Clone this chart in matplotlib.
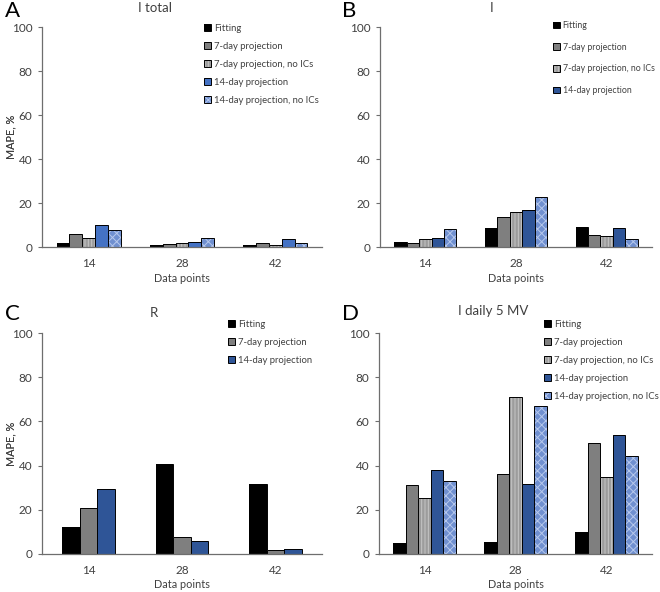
import numpy as np
import matplotlib.pyplot as plt
from matplotlib.patches import Patch

plt.rcParams['font.family'] = ['Lato', 'DejaVu Sans']
plt.rcParams['hatch.linewidth'] = 0.7

points = ["14", "28", "42"]

names_full = ["Fitting", "7-day projection", "7-day projection, no ICs",
              "14-day projection", "14-day projection, no ICs"]
names_r = ["Fitting", "7-day projection", "14-day projection"]

# MAPE, % per series (rows) at 14 / 28 / 42 data points
i_total = [[2.0, 0.8, 1.0],
           [5.8, 1.2, 1.8],
           [4.0, 2.0, 1.0],
           [10.0, 2.5, 3.6],
           [7.8, 4.2, 1.8]]
i_active = [[2.4, 8.8, 9.0],
            [2.0, 13.6, 5.4],
            [3.5, 16.0, 5.2],
            [4.2, 17.0, 8.8],
            [8.2, 22.6, 3.8]]
r_removed = [[12.2, 40.5, 31.5],
             [20.6, 7.6, 1.6],
             [29.6, 6.0, 2.2]]
i_daily = [[5.0, 5.6, 10.0],
           [31.0, 36.0, 50.4],
           [25.4, 71.2, 35.0],
           [38.0, 31.7, 54.0],
           [33.0, 66.8, 44.5]]

TEXT = '#404040'
AXIS = '#6e6e6e'


def styles(blue):
    return {
        "Fitting": ('black', None, 'black'),
        "7-day projection": ('#7f7f7f', None, '#7f7f7f'),
        "7-day projection, no ICs": ('#9c9c9c', '|||||', '#c6c6c6'),
        "14-day projection": (blue, None, blue),
        "14-day projection, no ICs": ('#7090d0', 'xxxx', '#b6c8ec'),
    }


def draw_panel(rect, data, names, blue, letter, title, title_xy, letter_xy,
               leg_xy, leg_n, leg_space, leg_size):
    ax = fig.add_axes(rect)
    st = styles(blue)
    n = len(data)
    w = 1.0 / (n + 2.3)
    x = np.arange(len(points))
    handles = []
    for k, (vals, name) in enumerate(zip(data, names)):
        fc, hatch, hc = st[name]
        pos = x + (k - (n - 1) / 2) * w
        ax.bar(pos, vals, w, color=fc, hatch=hatch, edgecolor=hc, lw=0)
        ax.bar(pos, vals, w, fill=False, edgecolor='black', lw=0.7)
        handles.append((Patch(facecolor=fc, hatch=hatch, edgecolor=hc, lw=0),
                        Patch(fill=False, edgecolor='black', lw=0.7)))
    ax.set_xlim(-0.5, len(points) - 0.5)
    ax.set_ylim(0, 100)
    ax.set_yticks(range(0, 101, 20))
    ax.set_xticks(x)
    ax.set_xticklabels(points)
    ax.tick_params(axis='x', length=0, labelsize=8.5, colors=TEXT, pad=8)
    ax.tick_params(axis='y', length=3, width=0.8, color=AXIS, labelsize=8.5,
                   labelcolor=TEXT, pad=4)
    for s in ['top', 'right']:
        ax.spines[s].set_visible(False)
    for s in ['left', 'bottom']:
        ax.spines[s].set_color(AXIS)
        ax.spines[s].set_linewidth(0.9)
    bw = rect[2] * W
    bh = rect[3] * H
    ax.set_xlabel("Data points", fontsize=7.8, color=TEXT)
    ax.xaxis.set_label_coords(0.5, -31 / bh)
    ax.xaxis.label.set_va('center')
    ax.set_ylabel("MAPE, %", fontsize=7.8, color=TEXT)
    ax.yaxis.set_label_coords(-(rect[0] * W - 11) / bw, 0.5)
    ax.yaxis.label.set_va('center')
    fig.text(letter_xy[0] / W, 1 - letter_xy[1] / H, letter, fontsize=16,
             ha='left', va='top', color='black')
    fig.text(title_xy[0] / W, 1 - title_xy[1] / H, title, fontsize=9.5,
             ha='center', va='center', color=TEXT)
    fig.legend(handles[:leg_n], names[:leg_n], loc='upper left',
               bbox_to_anchor=(leg_xy[0] / W, 1 - leg_xy[1] / H),
               frameon=False, fontsize=leg_size, handlelength=0.75,
               handleheight=0.75, handletextpad=0.35, labelspacing=leg_space,
               borderpad=0, borderaxespad=0, labelcolor=TEXT)
    return ax


W, H = 660, 592
fig = plt.figure(figsize=(6.6, 5.92), dpi=100)

draw_panel([42 / W, 1 - 247 / H, 280 / W, 220 / H], i_total, names_full,
           '#4472c4', 'A', 'I total', (155, 8), (5, 1), (204, 24), 5, 0.95, 6.8)
draw_panel([380 / W, 1 - 247 / H, 272 / W, 220 / H], i_active, names_full,
           '#2f5597', 'B', 'I', (492, 8), (342, 1), (553, 21), 4, 1.45, 6.3)
draw_panel([42 / W, 1 - 554 / H, 280 / W, 221 / H], r_removed, names_r,
           '#2f5597', 'C', 'R', (154, 313), (5, 304), (228, 320), 3, 0.95, 6.8)
draw_panel([379 / W, 1 - 554 / H, 273 / W, 221 / H], i_daily, names_full,
           '#2f5597', 'D', 'I daily 5 MV', (493, 311), (342, 304), (544, 320), 5, 0.95, 6.8)

fig.savefig('out.png', dpi=100)
